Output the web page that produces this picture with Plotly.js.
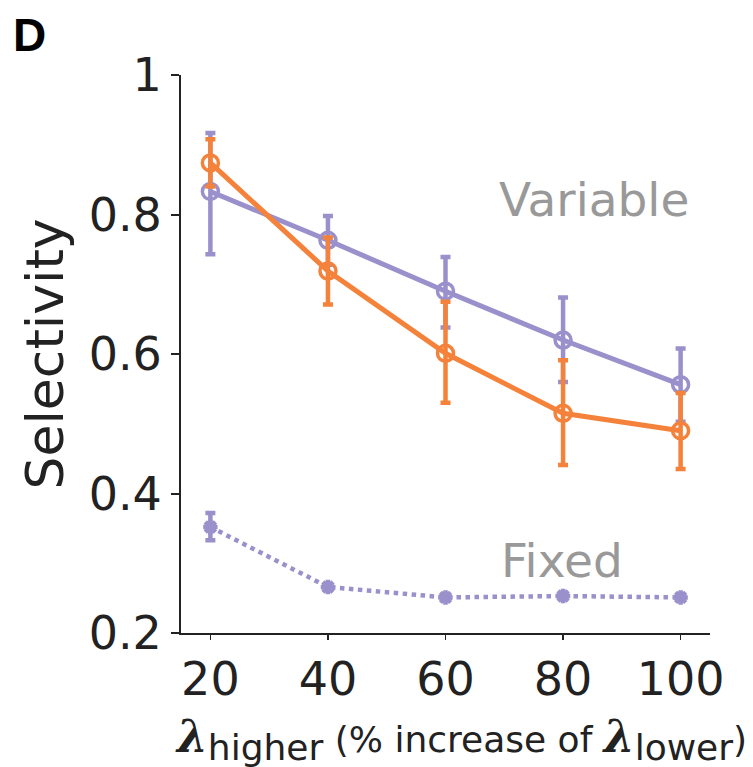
<!DOCTYPE html>
<html>
<head>
<meta charset="utf-8">
<script src="https://cdn.plot.ly/plotly-3.0.1.min.js"></script>
<style>html,body{margin:0;padding:0;background:#fff;}#chart{width:753px;height:767px;}</style>
</head>
<body>
<div id="chart"></div>
<script>
const xVals = [20, 40, 60, 80, 100];
const tickLabels = ['20', '40', '60', '80', '100'];

const variableOrange = [0.874, 0.719, 0.601, 0.515, 0.490];
const variableOrangeHi = [0.908, 0.767, 0.675, 0.591, 0.544];
const variableOrangeLo = [0.840, 0.671, 0.530, 0.441, 0.435];

const variablePurple = [0.833, 0.763, 0.690, 0.620, 0.556];
const variablePurpleHi = [0.917, 0.798, 0.739, 0.681, 0.608];
const variablePurpleLo = [0.743, 0.728, 0.638, 0.560, 0.503];

const fixedPurple = [0.352, 0.266, 0.251, 0.253, 0.251];
const fixedPurpleHi = [0.372, 0.270, 0.255, 0.257, 0.255];
const fixedPurpleLo = [0.333, 0.262, 0.247, 0.249, 0.247];

const ORANGE = '#F4823A';
const PURPLE = '#9A90CC';

function errs(v, hi, lo) {
  return {
    type: 'data', symmetric: false,
    array: hi.map((h, i) => h - v[i]),
    arrayminus: lo.map((l, i) => v[i] - l),
    thickness: 4.5, width: 5
  };
}

const traces = [
  {
    x: xVals, y: variablePurple, mode: 'lines+markers', type: 'scatter',
    line: {color: PURPLE, width: 5},
    marker: {symbol: 'circle-open', size: 16, color: PURPLE, line: {width: 3.5, color: PURPLE}},
    error_y: Object.assign(errs(variablePurple, variablePurpleHi, variablePurpleLo), {color: PURPLE}),
    cliponaxis: false
  },
  {
    x: xVals, y: variableOrange, mode: 'lines+markers', type: 'scatter',
    line: {color: ORANGE, width: 5},
    marker: {symbol: 'circle-open', size: 16, color: ORANGE, line: {width: 3.5, color: ORANGE}},
    error_y: Object.assign(errs(variableOrange, variableOrangeHi, variableOrangeLo), {color: ORANGE}),
    cliponaxis: false
  },
  {
    x: xVals, y: fixedPurple, mode: 'lines+markers', type: 'scatter',
    line: {color: PURPLE, width: 4.5, dash: 'dot'},
    marker: {symbol: 'asterisk-open', size: 12, color: PURPLE, line: {width: 4.5, color: PURPLE}},
    error_y: Object.assign(errs(fixedPurple, fixedPurpleHi, fixedPurpleLo), {color: PURPLE}),
    cliponaxis: false
  }
];

const FONT = 'DejaVu Sans, sans-serif';
const L = 181, R = 43, T = 75, B = 134;
const plotW = 753 - L - R, plotH = 767 - T - B;
const px = (x) => (x - L) / plotW;
const py = (y) => 1 - (y - T) / plotH;

const layout = {
  width: 753, height: 767,
  margin: {l: L, r: R, t: T, b: B},
  paper_bgcolor: '#fff', plot_bgcolor: '#fff',
  showlegend: false,
  font: {family: FONT, color: '#222', size: 46},
  xaxis: {
    range: [15, 105], tickvals: xVals, ticktext: tickLabels,
    showgrid: false, zeroline: false, showline: true, linecolor: '#222', linewidth: 2,
    ticks: 'outside', ticklen: 5, tickwidth: 1.5, tickcolor: '#222',
    tickfont: {family: FONT, size: 46, color: '#222'}
  },
  yaxis: {
    range: [0.2, 1.0], tickvals: [0.2, 0.4, 0.6, 0.8, 1.0], ticktext: ['0.2', '0.4', '0.6', '0.8', '1'],
    showgrid: false, zeroline: false, showline: true, linecolor: '#222', linewidth: 2,
    ticks: 'outside', ticklen: 8, tickwidth: 2, tickcolor: '#222',
    tickfont: {family: FONT, size: 46, color: '#222'},
    title: {text: 'Selectivity', font: {family: FONT, size: 52, color: '#222'}, standoff: 8}
  },
  annotations: [
    {text: 'Variable', x: px(594), y: py(200), xref: 'paper', yref: 'paper', showarrow: false,
     font: {family: FONT, size: 47, color: '#999'}, xanchor: 'center', yanchor: 'middle'},
    {text: 'Fixed', x: px(562), y: py(560), xref: 'paper', yref: 'paper', showarrow: false,
     font: {family: FONT, size: 47, color: '#999'}, xanchor: 'center', yanchor: 'middle'},
    {text: '<b>D</b>', x: px(29), y: py(35), xref: 'paper', yref: 'paper', showarrow: false,
     xanchor: 'center', yanchor: 'middle',
     font: {family: 'Liberation Sans, Arial, sans-serif', size: 46, color: '#000'}},
    {text: '<span style="font-family:DejaVu Serif;font-size:44px"><b><i>λ</i></b></span><sub><span style="font-size:36px">higher</span></sub> (% increase of <span style="font-family:DejaVu Serif;font-size:44px"><b><i>λ</i></b></span><sub><span style="font-size:36px">lower</span></sub>)',
     x: px(461), y: py(739), xref: 'paper', yref: 'paper', showarrow: false, xanchor: 'center', yanchor: 'middle',
     font: {family: FONT, size: 36, color: '#222'}}
  ]
};

Plotly.newPlot('chart', traces, layout, {displayModeBar: false, staticPlot: true});
</script>
</body>
</html>
